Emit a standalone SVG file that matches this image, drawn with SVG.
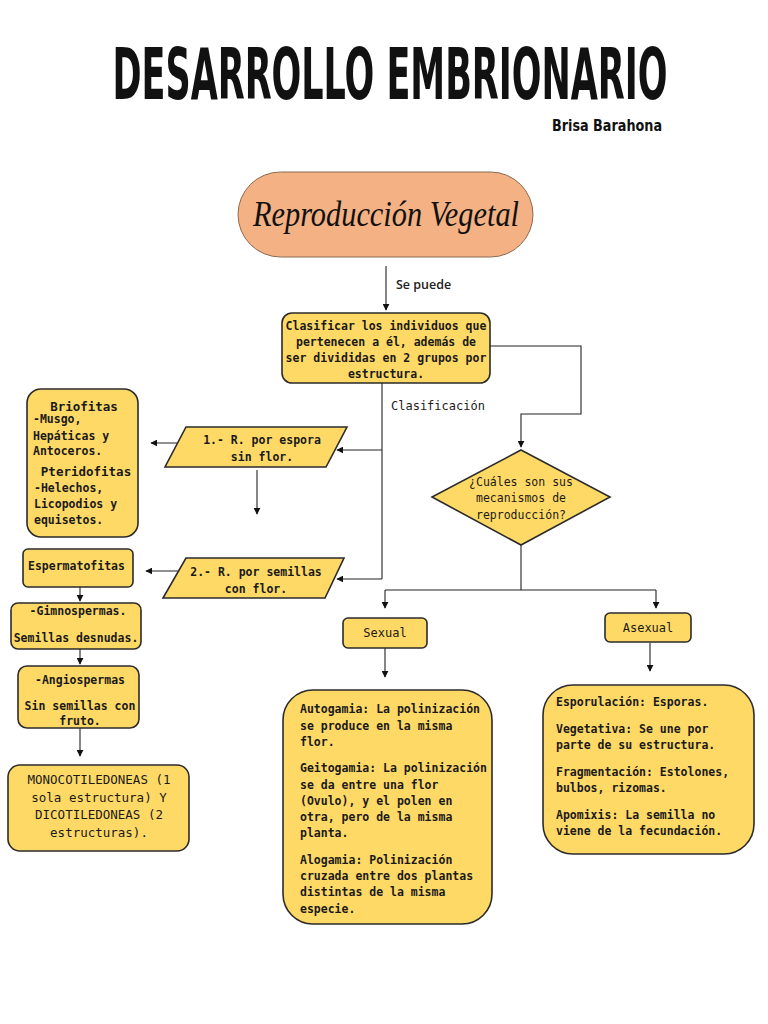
<svg xmlns="http://www.w3.org/2000/svg" width="768" height="1024" viewBox="0 0 768 1024">
<defs>
<marker id="ah" viewBox="0 0 10 10" refX="9" refY="5" markerWidth="7" markerHeight="7" orient="auto" markerUnits="userSpaceOnUse">
<path d="M0,0 L10,5 L0,10 z" fill="#111"/>
</marker>
<style>
.box{fill:#FFD966;stroke:#2b2b2b;stroke-width:1.6}
.t{font-family:"DejaVu Sans Mono","Liberation Mono",monospace;font-size:11.5px;font-weight:bold;fill:#1a1a1a}
.c{text-anchor:middle}
.ln{fill:none;stroke:#222;stroke-width:1.1}
.ar{fill:none;stroke:#222;stroke-width:1.1;marker-end:url(#ah)}
</style>
</defs>
<rect width="768" height="1024" fill="#fff"/>

<g id="title">
<text transform="translate(390,99) scale(1,1.75)" x="0" y="0" text-anchor="middle" font-family="DejaVu Sans Condensed, 'DejaVu Sans', sans-serif" font-weight="bold" font-size="41" textLength="555" lengthAdjust="spacingAndGlyphs" fill="#111">DESARROLLO EMBRIONARIO</text>
<text x="662" y="131" text-anchor="end" font-family="DejaVu Sans Condensed, 'DejaVu Sans', sans-serif" font-weight="bold" font-size="15" textLength="110" lengthAdjust="spacingAndGlyphs" fill="#111">Brisa Barahona</text>
</g>

<g id="connectors">
<path class="ar" d="M386,266 V310"/>
<path class="ar" d="M490,346 H581 V414 H521 V447"/>
<path class="ln" d="M382,383 V579"/>
<path class="ar" d="M382,450 H337"/>
<path class="ar" d="M382,579 H337"/>
<path class="ar" d="M185,443 H151"/>
<path class="ar" d="M257,470 V514"/>
<path class="ar" d="M186,571 H146"/>
<path class="ar" d="M80,587 V601"/>
<path class="ar" d="M80,649 V664"/>
<path class="ar" d="M80,728 V756"/>
<path class="ln" d="M521,545 V590"/>
<path class="ln" d="M385,590 H656"/>
<path class="ar" d="M385,590 V608"/>
<path class="ar" d="M656,590 V608"/>
<path class="ar" d="M385,648 V677"/>
<path class="ar" d="M650,643 V671"/>
<text x="396" y="289" font-family="'Open Sans','Noto Sans',sans-serif" font-size="12.5" font-weight="600" fill="#222">Se puede</text>
<text x="391" y="410" class="t" style="font-weight:normal;font-size:12px">Clasificación</text>
</g>

<g id="n-reproduccion">
<rect x="238" y="172" width="295" height="85" rx="42.5" fill="#F4B183" stroke="#8a6a50" stroke-width="1"/>
<text x="386" y="226" text-anchor="middle" font-family="'Liberation Serif',serif" font-style="italic" font-size="36" textLength="266" lengthAdjust="spacingAndGlyphs" fill="#111">Reproducción Vegetal</text>
</g>

<g id="n-clasificar">
<rect class="box" x="282" y="313" width="208" height="70" rx="10"/>
<text class="t c" x="386" y="330">Clasificar los individuos que</text>
<text class="t c" x="386" y="346">pertenecen a él, además de</text>
<text class="t c" x="386" y="362">ser divididas en 2 grupos por</text>
<text class="t c" x="386" y="378">estructura.</text>
</g>

<g id="n-mecanismos">
<polygon class="box" points="521,450 610,497 521,545 432,497"/>
<text class="t c" x="521" y="486" style="font-weight:normal">¿Cuáles son sus</text>
<text class="t c" x="521" y="502" style="font-weight:normal">mecanismos de</text>
<text class="t c" x="521" y="519" style="font-weight:normal">reproducción?</text>
</g>

<g id="n-espora">
<polygon class="box" points="186,427 347,427 326,467 165,467"/>
<text class="t c" x="262" y="444">1.- R. por espora</text>
<text class="t c" x="262" y="461">sin flor.</text>
</g>

<g id="n-semillas">
<polygon class="box" points="186,558 344,558 325,598 163,598"/>
<text class="t c" x="256" y="576">2.- R. por semillas</text>
<text class="t c" x="256" y="593">con flor.</text>
</g>

<g id="n-briofitas">
<rect class="box" x="27" y="389" width="111" height="148" rx="14"/>
<text class="t c" x="84" y="411" style="font-size:12.5px">Briofitas</text>
<text class="t" x="33" y="423">-Musgo,</text>
<text class="t" x="33" y="440">Hepáticas y</text>
<text class="t" x="33" y="455">Antoceros.</text>
<text class="t c" x="86" y="476" style="font-size:12.5px">Pteridofitas</text>
<text class="t" x="34" y="492">-Helechos,</text>
<text class="t" x="34" y="508">Licopodios y</text>
<text class="t" x="34" y="524">equisetos.</text>
</g>

<g id="n-espermatofitas">
<rect class="box" x="23" y="549" width="110" height="38" rx="5"/>
<text class="t" x="28" y="570">Espermatofitas</text>
</g>

<g id="n-gimnospermas">
<rect class="box" x="11" y="603" width="130" height="46" rx="7"/>
<text class="t c" x="78" y="615">-Gimnospermas.</text>
<text class="t c" x="76" y="642">Semillas desnudas.</text>
</g>

<g id="n-angiospermas">
<rect class="box" x="18" y="666" width="121" height="62" rx="9"/>
<text class="t c" x="80" y="684">-Angiospermas</text>
<text class="t c" x="80" y="710">Sin semillas con</text>
<text class="t c" x="80" y="725">fruto.</text>
</g>

<g id="n-cotiledoneas">
<rect class="box" x="8" y="765" width="181" height="86" rx="12"/>
<text class="t c" x="99" y="784" style="font-size:12.5px;font-weight:normal">MONOCOTILEDONEAS (1</text>
<text class="t c" x="99" y="802" style="font-size:12.5px;font-weight:normal">sola estructura) Y</text>
<text class="t c" x="99" y="819" style="font-size:12.5px;font-weight:normal">DICOTILEDONEAS (2</text>
<text class="t c" x="99" y="837" style="font-size:12.5px;font-weight:normal">estructuras).</text>
</g>

<g id="n-sexual">
<rect class="box" x="343" y="618" width="84" height="30" rx="5"/>
<text class="t c" x="385" y="637" style="font-size:12px;font-weight:normal">Sexual</text>
</g>

<g id="n-asexual">
<rect class="box" x="605" y="613" width="86" height="29" rx="5"/>
<text class="t c" x="648" y="632" style="font-size:12px;font-weight:normal">Asexual</text>
</g>

<g id="n-sexual-tipos">
<rect class="box" x="283" y="690" width="209" height="234" rx="30"/>
<text class="t" x="300" y="713">Autogamia: La polinización</text>
<text class="t" x="300" y="730">se produce en la misma</text>
<text class="t" x="300" y="746">flor.</text>
<text class="t" x="300" y="772">Geitogamia: La polinización</text>
<text class="t" x="300" y="789">se da entre una flor</text>
<text class="t" x="300" y="805">(Ovulo), y el polen en</text>
<text class="t" x="300" y="821">otra, pero de la misma</text>
<text class="t" x="300" y="837">planta.</text>
<text class="t" x="300" y="864">Alogamia: Polinización</text>
<text class="t" x="300" y="880">cruzada entre dos plantas</text>
<text class="t" x="300" y="896">distintas de la misma</text>
<text class="t" x="300" y="913">especie.</text>
</g>

<g id="n-asexual-tipos">
<rect class="box" x="543" y="685" width="211" height="169" rx="30"/>
<text class="t" x="556" y="706">Esporulación: Esporas.</text>
<text class="t" x="556" y="733">Vegetativa: Se une por</text>
<text class="t" x="556" y="749">parte de su estructura.</text>
<text class="t" x="556" y="776">Fragmentación: Estolones,</text>
<text class="t" x="556" y="792">bulbos, rizomas.</text>
<text class="t" x="556" y="819">Apomixis: La semilla no</text>
<text class="t" x="556" y="835">viene de la fecundación.</text>
</g>
</svg>
